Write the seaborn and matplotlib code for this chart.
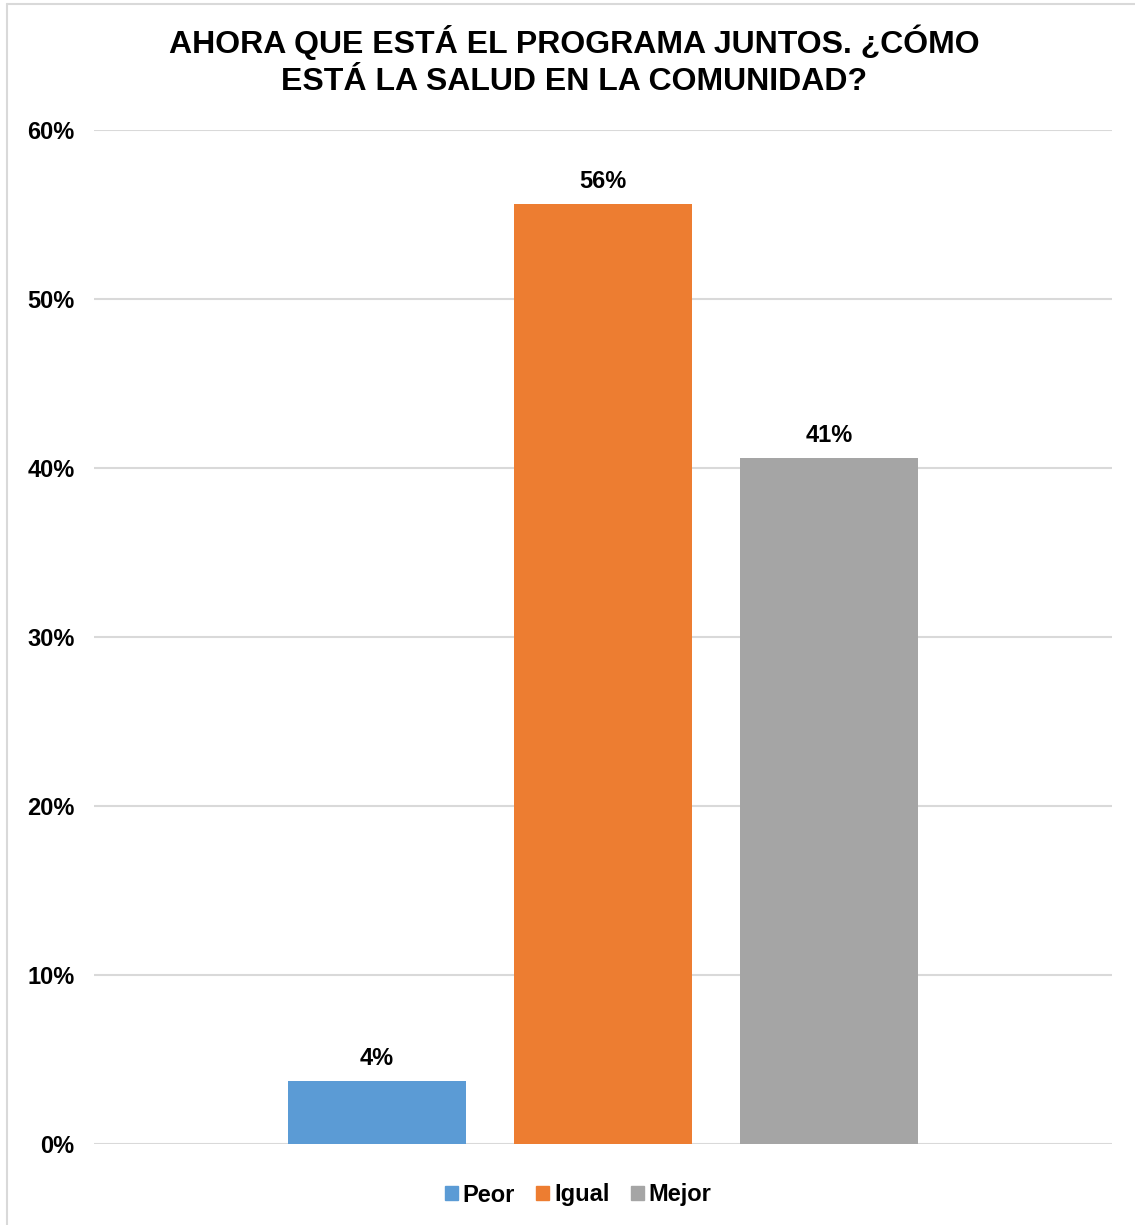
import matplotlib
matplotlib.use("Agg")
import matplotlib.pyplot as plt
import matplotlib.patches as mpatches
import matplotlib.lines as mlines
import seaborn as sns
import pandas as pd

# Data
categories = ['Peor', 'Igual', 'Mejor']
values = [0.037, 0.556, 0.406]
bar_colors = ['#5B9BD5', '#ED7D31', '#A5A5A5']
title = 'AHORA QUE ESTÁ EL PROGRAMA JUNTOS. ¿CÓMO\nESTÁ LA SALUD EN LA COMUNIDAD?'

sns.set_style("white")
plt.rcParams['font.family'] = ['Liberation Sans', 'DejaVu Sans']
plt.rcParams['text.color'] = 'black'
plt.rcParams['ytick.color'] = 'black'

df = pd.DataFrame({'grupo': [''] * len(categories), 'respuesta': categories, 'valor': values})

fig = plt.figure(figsize=(11.35, 12.25), dpi=100)
ax = fig.add_axes([94 / 1135, 1 - 1144 / 1225, (1112 - 94) / 1135, (1144 - 130) / 1225])

sns.barplot(data=df, x='grupo', y='valor', hue='respuesta', hue_order=categories,
            palette=bar_colors, width=0.666, gap=0.212, saturation=1,
            linewidth=0, legend=False, ax=ax)

ax.set_ylim(0, 0.6)
ax.set_xlim(-0.5, 0.5)
ax.set_yticks([0, 0.1, 0.2, 0.3, 0.4, 0.5, 0.6])
ax.set_yticklabels([f'{int(round(t * 100))}%' for t in ax.get_yticks()],
                   fontsize=17, fontweight='bold', color='black')
ax.set_xticks([])
ax.set_xlabel('')
ax.set_ylabel('')
ax.tick_params(axis='y', length=0, pad=14)
ax.grid(True, axis='y', color='#D9D9D9', linewidth=1.5)
ax.set_axisbelow(True)
for s in ax.spines.values():
    s.set_visible(False)

# Value labels above bars
for cont in ax.containers:
    ax.bar_label(cont, labels=[f'{v * 100:.0f}%' for v in cont.datavalues],
                 padding=8, fontsize=17, fontweight='bold', color='black')

# Title
fig.text(574 / 1135, 1 - 61 / 1225, title, ha='center', va='center',
         fontsize=23, fontweight='bold', linespacing=1.3, color='black')

# Legend
handles = [mpatches.Patch(color=c, label=l) for c, l in zip(bar_colors, categories)]
fig.legend(handles=handles, loc='center', bbox_to_anchor=(578 / 1135, 1 - 1195 / 1225),
           ncol=3, frameon=False, prop={'size': 17, 'weight': 'bold'},
           handlelength=0.55, handleheight=0.55, handletextpad=0.2, columnspacing=0.9)

# Light border on chart area (left and top visible in the reference)
fig.add_artist(mlines.Line2D([7 / 1135, 7 / 1135], [0, 1 - 4 / 1225], transform=fig.transFigure,
                             color='#D9D9D9', linewidth=1.5))
fig.add_artist(mlines.Line2D([7 / 1135, 1], [1 - 4 / 1225, 1 - 4 / 1225], transform=fig.transFigure,
                             color='#D9D9D9', linewidth=1.5))

fig.savefig('out.png', dpi=100)
